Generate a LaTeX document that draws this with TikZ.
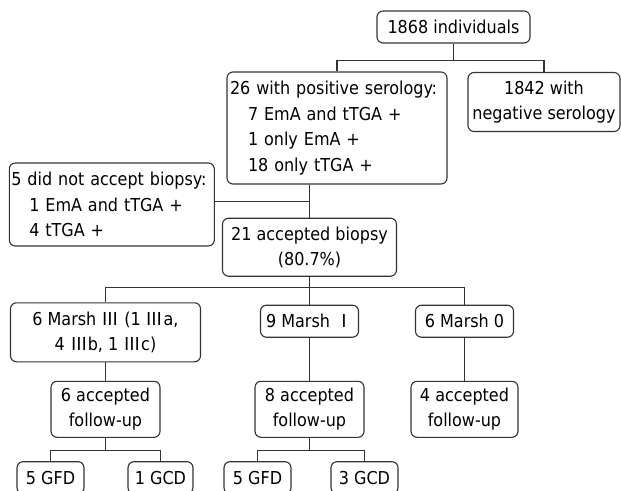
\documentclass[tikz,border=0pt]{standalone}
\usepackage{fontspec}
\setmainfont{DejaVu Sans Condensed}
\newfontfamily\cjk{Noto Sans CJK SC}
\tikzset{
  box/.style={draw=black!80, line width=1.1pt, rounded corners=6pt, fill=white,
    inner sep=0pt, align=center, font=\fontsize{17.8}{25.4}\selectfont},
  link/.style={draw=black!80, line width=1.1pt}
}
\begin{document}
\begin{tikzpicture}[x=1pt,y=-1pt]
    \useasboundingbox (0,0) rectangle (621,490);
    \node [box, minimum width=153pt, minimum height=32pt] (b1) at (453.5,27) {1868 individuals};
    \node [box, align=left, text width=214pt, inner xsep=3pt, minimum height=112pt] (b2) at (337,128)
        {26 with positive serology:\\\hspace*{18pt}7 EmA and tTGA +\\\hspace*{18pt}1 only EmA +\\\hspace*{18pt}18 only tTGA +};
    \node [box, minimum width=152pt, minimum height=59pt] (b3) at (544,102) {1842 with\\negative serology};
    \node [box, align=left, text width=201pt, inner xsep=2pt, minimum height=83pt] (b4) at (111.8,204.5)
        {5 did not accept biopsy:\\\hspace*{18pt}1 EmA and tTGA +\\\hspace*{18pt}4 tTGA +};
    \node [box, minimum width=174pt, minimum height=58pt] (b5) at (309.5,247.2) {21 accepted biopsy\\(80.7\%)};
    \node [box, minimum width=190pt, minimum height=59pt] (b6) at (105.5,332.3)
        {6 Marsh {\cjk Ⅲ} (1 {\cjk Ⅲ}a,\\4 {\cjk Ⅲ}b, 1 {\cjk Ⅲ}c)};
    \node [box, minimum width=98pt, minimum height=32pt] (b7) at (309.5,321.2) {9 Marsh {\cjk Ⅰ}};
    \node [box, minimum width=98pt, minimum height=32pt] (b8) at (464.5,321.2) {6 Marsh 0};
    \node [box, minimum width=109pt, minimum height=56pt] (b9) at (105.5,409.3) {6 accepted\\follow-up};
    \node [box, minimum width=109pt, minimum height=56pt] (b10) at (309.5,409.3) {8 accepted\\follow-up};
    \node [box, minimum width=107pt, minimum height=56pt] (b11) at (464.5,409.3) {4 accepted\\follow-up};
    \node [box, minimum width=67pt, minimum height=32pt] (b12) at (50.5,477.7) {5 GFD};
    \node [box, minimum width=65pt, minimum height=32pt] (b13) at (160.5,477.7) {1 GCD};
    \node [box, minimum width=67pt, minimum height=32pt] (b14) at (257.5,477.7) {5 GFD};
    \node [box, minimum width=67pt, minimum height=32pt] (b15) at (364.5,477.7) {3 GCD};
    \coordinate (j1) at (453.5,60.5);
    \coordinate (j2) at (309.5,201.5);
    \coordinate (j3) at (309.5,287.5);
    \coordinate (j4) at (105.5,450.5);
    \coordinate (j5) at (309.5,450.5);
    \draw [link] (b1) -- (j1);
    \draw [link] (b2) |- (j1) -| (b3);
    \draw [link] (b2.south -| b5) -- (b5);
    \draw [link] (j2) -- (j2 -| b4.east);
    \draw [link] (b5) -- (b7);
    \draw [link] (b6) |- (j3) -| (b8);
    \draw [link] (b6) -- (b9);
    \draw [link] (b7) -- (b10);
    \draw [link] (b8) -- (b11);
    \draw [link] (b9) -- (j4);
    \draw [link] (b12) |- (j4) -| (b13);
    \draw [link] (b10) -- (j5);
    \draw [link] (b14) |- (j5) -| (b15);
\end{tikzpicture}
\end{document}
